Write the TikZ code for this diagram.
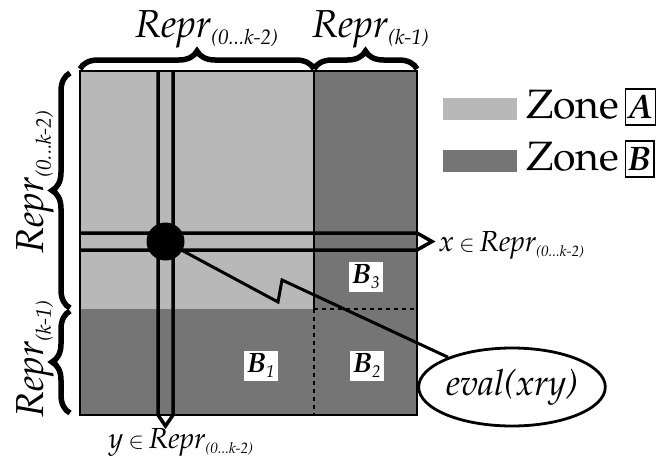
\documentclass[tikz,border=0pt]{standalone}
\usepackage[T1]{fontenc}
\usepackage{mathpazo}
\usetikzlibrary{positioning,shapes.geometric,decorations.pathreplacing}

% Repr with a small lowered index; #1 = index size
\newcommand{\repr}[2][21]{\textit{Repr}\raisebox{-.2em}{\fontsize{#1}{#1}\selectfont\itshape #2}}
\newcommand{\fsz}[1]{\fontsize{#1}{#1}\selectfont}
\newcommand{\sub}[2]{\textbf{\textit{#1}}\raisebox{-5pt}{\fsz{17}\itshape #2}}

\begin{document}
\begin{tikzpicture}[x=1pt,y=-1pt,
  zoneA/.style={fill=black!28},
  zoneB/.style={fill=black!54},
  band/.style={line width=3.5pt,line join=miter},
  bigbrace/.style={decorate,decoration={brace,amplitude=18pt},line width=5.5pt},
  biglabel/.style={inner sep=0pt,font=\fsz{39}},
  setlabel/.style={inner sep=0pt,font=\fsz{29}},
  blabel/.style={fill=white,inner sep=3pt,font=\fsz{28}},
  letterbox/.style={draw,line width=1.2pt,inner sep=3pt,text height=26pt,text depth=4pt,
    font=\fsz{34}\itshape\bfseries},
  hit/.style={circle,fill,inner sep=0pt,minimum size=38pt},
  evalnode/.style={ellipse,draw,line width=2.8pt,minimum width=150pt,minimum height=78pt,
    inner sep=0pt,font=\fsz{36}\itshape}]
  \useasboundingbox (0,0) rectangle (664,466);
  % the two zones of the table
  \fill[zoneA] (80,71) rectangle (314,309);
  \fill[zoneB] (314,71) rectangle (417,415);
  \fill[zoneB] (80,309) rectangle (314,415);
  \draw[line width=1.5pt] (80,71) rectangle (417,415);
  \draw[line width=1.5pt] (314,71) -- (314,309);
  \draw[line width=1.8pt,dash pattern=on 4pt off 4pt] (314,309) -- (417,309);
  \draw[line width=1.8pt,dash pattern=on 4pt off 4pt] (314,309) -- (314,415);
  % row x and column y
  \draw[band] (80,233) -- (417,233) -- (432,241.5) -- (417,250) -- (80,250);
  \draw[band] (158,71) -- (158,415) -- (165.5,426) -- (173,415) -- (173,71);
  \node[hit] (xy) at (165.5,241.5) {};
  % sub-zones of B
  \node[blabel] (b1) at (261,366) {\sub{B}{1}};
  \node[blabel] (b2) at (367,366) {\sub{B}{2}};
  \node[blabel] (b3) at (366,277) {\sub{B}{3}};
  % evaluation
  \node[evalnode] (eval) at (512,387) {eval(xry)};
  \coordinate (zig1) at (278,302);
  \coordinate (zig2) at (282,280);
  \draw[line width=3pt,line join=miter] (xy) -- (zig1) -- (zig2) -- (eval);
  % braces and their labels
  \draw[bigbrace] (80,69) -- (314,69);
  \draw[bigbrace] (314,69) -- (417,69);
  \draw[bigbrace] (70,308) -- (70,73);
  \draw[bigbrace] (70,413) -- (70,311);
  \node[biglabel,anchor=base west] (colA) at (135,37) {\repr{(0...k-2)}};
  \node[biglabel,anchor=base west] (colB) at (312,37) {\repr{(k-1)}};
  \node[biglabel,anchor=base,rotate=90] (rowA) at (43,182) {\repr{(0...k-2)}};
  \node[biglabel,anchor=base,rotate=90] (rowB) at (43,359) {\repr{(k-1)}};
  \node[setlabel,anchor=base west] (xlab) at (438,251)
    {$x$\,{\fsz{22}$\in$}\,\repr[15]{(0...k-2)}};
  \node[setlabel,anchor=base west] (ylab) at (108,448)
    {$y$\,{\fsz{22}$\in$}\,\repr[15]{(0...k-2)}};
  % legend
  \fill[zoneA] (443,98) rectangle (517,120);
  \fill[zoneB] (443,150) rectangle (517,172);
  \node[biglabel,anchor=base west,font=\fsz{41}] (zA) at (526,118) {Zone};
  \node[letterbox,base right=5pt of zA] (boxA) {A};
  \node[biglabel,anchor=base west,font=\fsz{41}] (zB) at (526,170) {Zone};
  \node[letterbox,base right=5pt of zB] (boxB) {B};
\end{tikzpicture}
\end{document}
